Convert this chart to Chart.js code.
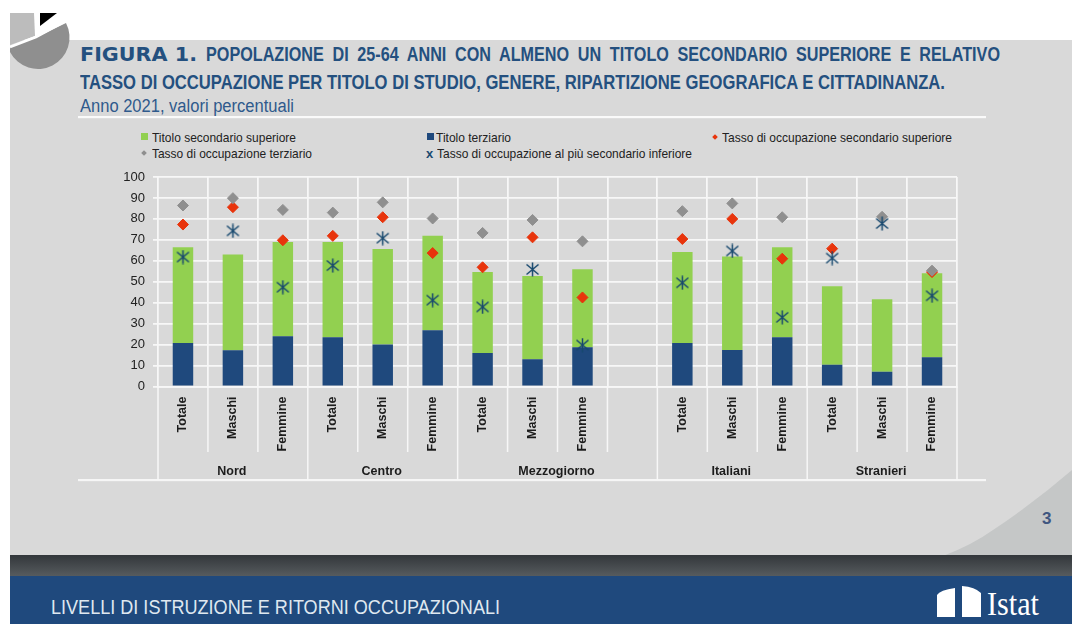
<!DOCTYPE html>
<html lang="it"><head><meta charset="utf-8">
<script src="https://cdn.jsdelivr.net/npm/chart.js@4/dist/chart.umd.min.js"></script>
<style>
html,body{margin:0;padding:0;background:#fff}
#stage{position:relative;width:1072px;height:624px;overflow:hidden;font-family:"Liberation Sans",Arial,sans-serif}
#bg{position:absolute;left:0;top:0}
canvas#c{position:absolute;left:0;top:0}
.t{position:absolute;white-space:nowrap;transform-origin:left center;line-height:1}
.title{color:#24507f;font-weight:bold;font-size:19.5px}
.leg{color:#222;font-size:13px}
.sw{position:absolute}
</style></head><body>
<div id="stage">
<svg id="bg" width="1072" height="624" viewBox="0 0 1072 624">
  <defs><linearGradient id="dk" x1="0" y1="0" x2="0" y2="1"><stop offset="0" stop-color="#33373b"/><stop offset="1" stop-color="#565b5e"/></linearGradient></defs>
  <rect x="10" y="40" width="1062" height="516" fill="#d9d9d9"/>
  <path d="M943 556 Q972 545 993 530 Q1035 502 1072 470 L1072 556 Z" fill="#c5c7c7"/>
  <rect x="10" y="555" width="1062" height="21" fill="url(#dk)"/>
  <rect x="10" y="576" width="1062" height="48" fill="#1f497d"/>
  <path d="M10 13 L34 13 L35 36 L10 45 Z" fill="#bcbcbc"/>
  <path d="M37 37 L66 23 A30 30 0 0 1 10 52 V47 Z" fill="#8f8f8f"/>
  <path d="M40 13 L57 13 L40 26 Z" fill="#000"/>
  <path d="M10 47 L36 37 L66 21" fill="none" stroke="#fff" stroke-width="2.5"/>
  <rect x="78" y="116" width="908" height="2.2" fill="#fafafa"/>
  <rect x="78" y="479" width="908" height="2.2" fill="#f6f6f6"/>
  <path d="M937 595 Q940 590 955 588 V617 H937 Z M962 586 Q975 587 981 593 V617 H962 Z" fill="#fff"/>
</svg>
<div class="t title fit" data-w="117" style="left:80px;top:45px;font-family:'DejaVu Sans';font-size:19px">FIGURA 1.</div>
<div class="t title fit" data-w="794" style="left:206px;top:45px;word-spacing:5px">POPOLAZIONE DI 25-64 ANNI CON ALMENO UN TITOLO SECONDARIO SUPERIORE E RELATIVO</div>
<div class="t title fit" data-w="865" style="left:80px;top:73px">TASSO DI OCCUPAZIONE PER TITOLO DI STUDIO, GENERE, RIPARTIZIONE GEOGRAFICA E CITTADINANZA.</div>
<div class="t fit" data-w="214" style="left:80px;top:97px;font-size:18px;color:#2f5a8c">Anno 2021, valori percentuali</div>

<div class="sw" style="left:141px;top:133px;width:7px;height:7px;background:#92d050"></div>
<div class="t leg fit" data-w="144" style="left:152px;top:131px">Titolo secondario superiore</div>
<div class="sw" style="left:427px;top:133px;width:7px;height:7px;background:#1f497d"></div>
<div class="t leg fit" data-w="75" style="left:436px;top:131px">Titolo terziario</div>
<div class="sw" style="left:713px;top:135px;width:4px;height:4px;background:#e8340c;transform:rotate(45deg)"></div>
<div class="t leg fit" data-w="230" style="left:722px;top:131px">Tasso di occupazione secondario superiore</div>
<div class="sw" style="left:142px;top:151px;width:4px;height:4px;background:#8f8f8f;transform:rotate(45deg)"></div>
<div class="t leg fit" data-w="160" style="left:152px;top:147px">Tasso di occupazione terziario</div>
<div class="t" style="left:426px;top:147px;font-size:13px;font-weight:bold;color:#1b4a70">x</div>
<div class="t leg fit" data-w="255" style="left:437px;top:147px">Tasso di occupazione al più secondario inferiore</div>

<div class="t" style="left:1042px;top:510px;font-size:17px;font-weight:bold;color:#3f5680">3</div>
<div class="t fit" data-w="449" style="left:51px;top:597px;font-size:20px;color:#dfe8f0">LIVELLI DI ISTRUZIONE E RITORNI OCCUPAZIONALI</div>
<div class="t fit" data-w="52" style="left:987px;top:587px;font-family:'Liberation Serif';font-size:34px;color:#fff">Istat</div>
<canvas id="c" width="1072" height="624"></canvas>
</div>
<script>
const categories = ["Totale","Maschi","Femmine","Totale","Maschi","Femmine","Totale","Maschi","Femmine","","Totale","Maschi","Femmine","Totale","Maschi","Femmine"];
const groups = ["Nord","Centro","Mezzogiorno","Italiani","Stranieri"];
const yTicks = [0,10,20,30,40,50,60,70,80,90,100];
const terziario    = [20.8,17.3,24.0,23.5,20.0,26.8,16.0,13.0,18.7,null,20.8,17.4,23.5,10.4,7.0,14.0];
const secondario   = [45.7,45.7,45.0,45.5,45.6,45.2,38.6,39.7,37.3,null,43.4,44.6,43.0,37.4,34.7,40.0];
const tassoTerz    = [86.4,89.9,84.3,83.0,87.9,80.2,73.3,79.5,69.3,null,83.7,87.4,80.8,null,81.0,55.3];
const tassoSec     = [77.3,85.6,69.8,71.9,80.8,63.7,56.9,71.2,42.5,null,70.4,80.0,61.0,65.8,null,54.6];
const tassoInf     = [61.8,74.3,47.4,57.7,70.8,41.2,38.0,55.9,19.8,null,49.5,64.7,33.0,61.3,77.8,43.3];
const groupStarts  = [0,3,6,10,13];
const groupEnds    = [3,6,10,13,16];
const innerLines   = [1,2,4,5,7,8,9,11,12,14,15];
const outerLines   = [0,3,6,10,13,16];

// six-armed asterisk marker
const star = document.createElement('canvas');
star.width = 15; star.height = 15;
(function(){
  const g = star.getContext('2d');
  g.strokeStyle = '#17486e'; g.lineWidth = 1.5;
  g.beginPath();
  g.moveTo(1.5,2.5); g.lineTo(13.5,12.5);
  g.moveTo(13.5,2.5); g.lineTo(1.5,12.5);
  g.moveTo(7.5,0.5); g.lineTo(7.5,14.5);
  g.stroke();
})();

const WHITE = '#f7f7f7';
const axisExtras = {
  id:'axisExtras',
  afterDraw(chart){
    const x = chart.scales.x, a = chart.chartArea, c = chart.ctx;
    const step = x.getPixelForValue(1) - x.getPixelForValue(0);
    const edge = i => x.getPixelForValue(0) - step/2 + i*step;
    c.save();
    c.strokeStyle = WHITE; c.lineWidth = 1.5;
    innerLines.forEach(i => { c.beginPath(); c.moveTo(edge(i),a.bottom); c.lineTo(edge(i),452); c.stroke(); });
    outerLines.forEach(i => { c.beginPath(); c.moveTo(edge(i),a.bottom); c.lineTo(edge(i),480); c.stroke(); });
    c.fillStyle = '#1c1c1c';
    c.font = 'bold 12.5px "Liberation Sans"';
    c.textAlign = 'center'; c.textBaseline = 'middle';
    groups.forEach((g,k) => c.fillText(g,(edge(groupStarts[k])+edge(groupEnds[k]))/2-1,472));
    c.restore();
  }
};

new Chart(document.getElementById('c'),{
  data:{
    labels:categories,
    datasets:[
      {type:'line',label:'Tasso di occupazione al più secondario inferiore',data:tassoInf,showLine:false,pointStyle:star,pointRadius:7,order:0},
      {type:'line',label:'Tasso di occupazione terziario',data:tassoTerz,showLine:false,pointStyle:'rectRot',pointRadius:5.5,pointBackgroundColor:'#8f8f8f',pointBorderColor:'#8f8f8f',order:1},
      {type:'line',label:'Tasso di occupazione secondario superiore',data:tassoSec,showLine:false,pointStyle:'rectRot',pointRadius:5.5,pointBackgroundColor:'#e8340c',pointBorderColor:'#e8340c',order:2},
      {type:'bar',label:'Titolo terziario',data:terziario,stack:'s',backgroundColor:'#1f497d',barPercentage:0.41,categoryPercentage:1,order:3},
      {type:'bar',label:'Titolo secondario superiore',data:secondario,stack:'s',backgroundColor:'#92d050',barPercentage:0.41,categoryPercentage:1,order:4}
    ]
  },
  options:{
    responsive:false,animation:false,
    layout:{padding:{left:108,right:115,top:177,bottom:0}},
    plugins:{legend:{display:false},tooltip:{enabled:false}},
    scales:{
      x:{
        grid:{color:WHITE,lineWidth:1.8,drawTicks:false},
        border:{color:WHITE,width:1.8},
        afterFit(s){ s.height = 237.5; },
        ticks:{autoSkip:false,minRotation:90,maxRotation:90,padding:10,color:'#1c1c1c',font:{family:'"Liberation Sans"',size:12.5,weight:'bold'}}
      },
      y:{
        min:0,max:100,
        afterFit(s){ s.width = 50; },
        grid:{color:WHITE,lineWidth:1.8,tickLength:5},
        border:{display:false},
        afterBuildTicks(s){ s.ticks = yTicks.map(v=>({value:v})); },
        ticks:{padding:8,color:'#222',font:{family:'"Liberation Sans"',size:13}}
      }
    }
  },
  plugins:[axisExtras]
});

// fit the text lines to the width they occupy in the figure
document.querySelectorAll('.fit').forEach(el=>{
  const w = el.getBoundingClientRect().width;
  el.style.transform = 'scaleX('+(parseFloat(el.dataset.w)/w)+')';
});
</script>
</body></html>
